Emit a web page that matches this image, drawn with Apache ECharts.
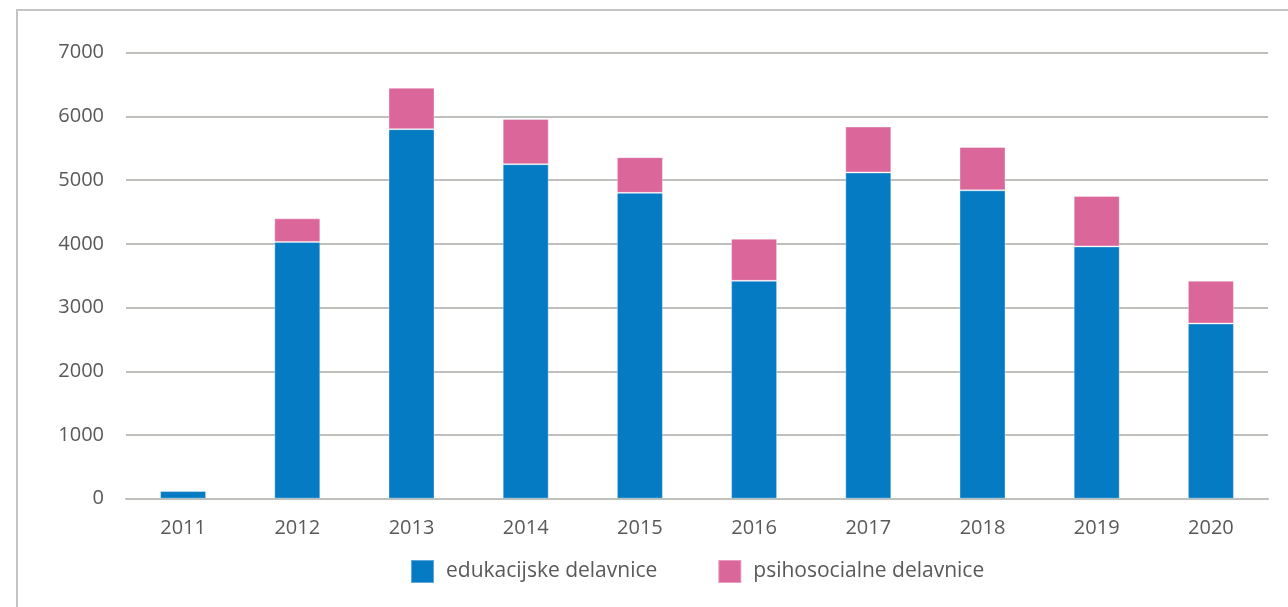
<!DOCTYPE html>
<html>
<head>
<meta charset="utf-8">
<script src="https://cdn.jsdelivr.net/npm/echarts@6/dist/echarts.min.js"></script>
<style>
  html, body { margin: 0; padding: 0; background: #ffffff; }
  #chart { width: 1288px; height: 607px; }
</style>
</head>
<body>
<div id="chart"></div>
<script>
// Število udeležencev delavnic po letih
const years = ['2011', '2012', '2013', '2014', '2015', '2016', '2017', '2018', '2019', '2020'];
const edukacijske = [120, 4030, 5800, 5250, 4800, 3420, 5120, 4840, 3960, 2750];
const psihosocialne = [15, 370, 650, 710, 560, 660, 720, 680, 790, 670];
const yTicks = { min: 0, max: 7000, interval: 1000 };

const FONT = '"Open Sans", "Noto Sans", sans-serif';
const GRID_COLOR = '#bfbfbb';
const TEXT_COLOR = '#595959';

const chart = echarts.init(document.getElementById('chart'), null, { renderer: 'canvas' });

chart.setOption({
  animation: false,
  backgroundColor: '#ffffff',
  textStyle: { fontFamily: FONT },
  graphic: [{
    type: 'rect',
    shape: { x: 17, y: 10, width: 1320, height: 640 },
    style: { fill: 'none', stroke: '#c4c4c4', lineWidth: 2 },
    silent: true,
    z: -1
  }],
  grid: { left: 126, right: 20, top: 52.7, bottom: 108.3 },
  legend: {
    left: 405,
    top: 554,
    itemWidth: 23,
    itemHeight: 23,
    itemGap: 60,
    icon: 'rect',
    textStyle: { fontFamily: FONT, fontSize: 21, color: TEXT_COLOR, padding: [0, 0, 0, 7] },
    data: ['edukacijske delavnice', 'psihosocialne delavnice']
  },
  xAxis: {
    type: 'category',
    data: years,
    axisTick: { show: false },
    axisLine: { lineStyle: { color: GRID_COLOR, width: 2 } },
    axisLabel: { color: TEXT_COLOR, fontSize: 20, margin: 20, fontFamily: FONT }
  },
  yAxis: {
    type: 'value',
    min: yTicks.min,
    max: yTicks.max,
    interval: yTicks.interval,
    axisLine: { show: false },
    axisTick: { show: false },
    splitLine: { lineStyle: { color: GRID_COLOR, width: 2 } },
    axisLabel: {
      color: TEXT_COLOR, fontSize: 20, margin: 22, fontFamily: FONT,
      formatter: v => String(v)
    }
  },
  series: [
    {
      name: 'edukacijske delavnice',
      type: 'bar',
      stack: 'skupaj',
      data: edukacijske,
      barWidth: 46,
      itemStyle: { color: '#057bc4', borderColor: 'rgba(255,255,255,0.35)', borderWidth: 1 }
    },
    {
      name: 'psihosocialne delavnice',
      type: 'bar',
      stack: 'skupaj',
      data: psihosocialne,
      barWidth: 46,
      itemStyle: { color: '#db6699', borderColor: 'rgba(255,255,255,0.35)', borderWidth: 1 }
    }
  ]
});
</script>
</body>
</html>
